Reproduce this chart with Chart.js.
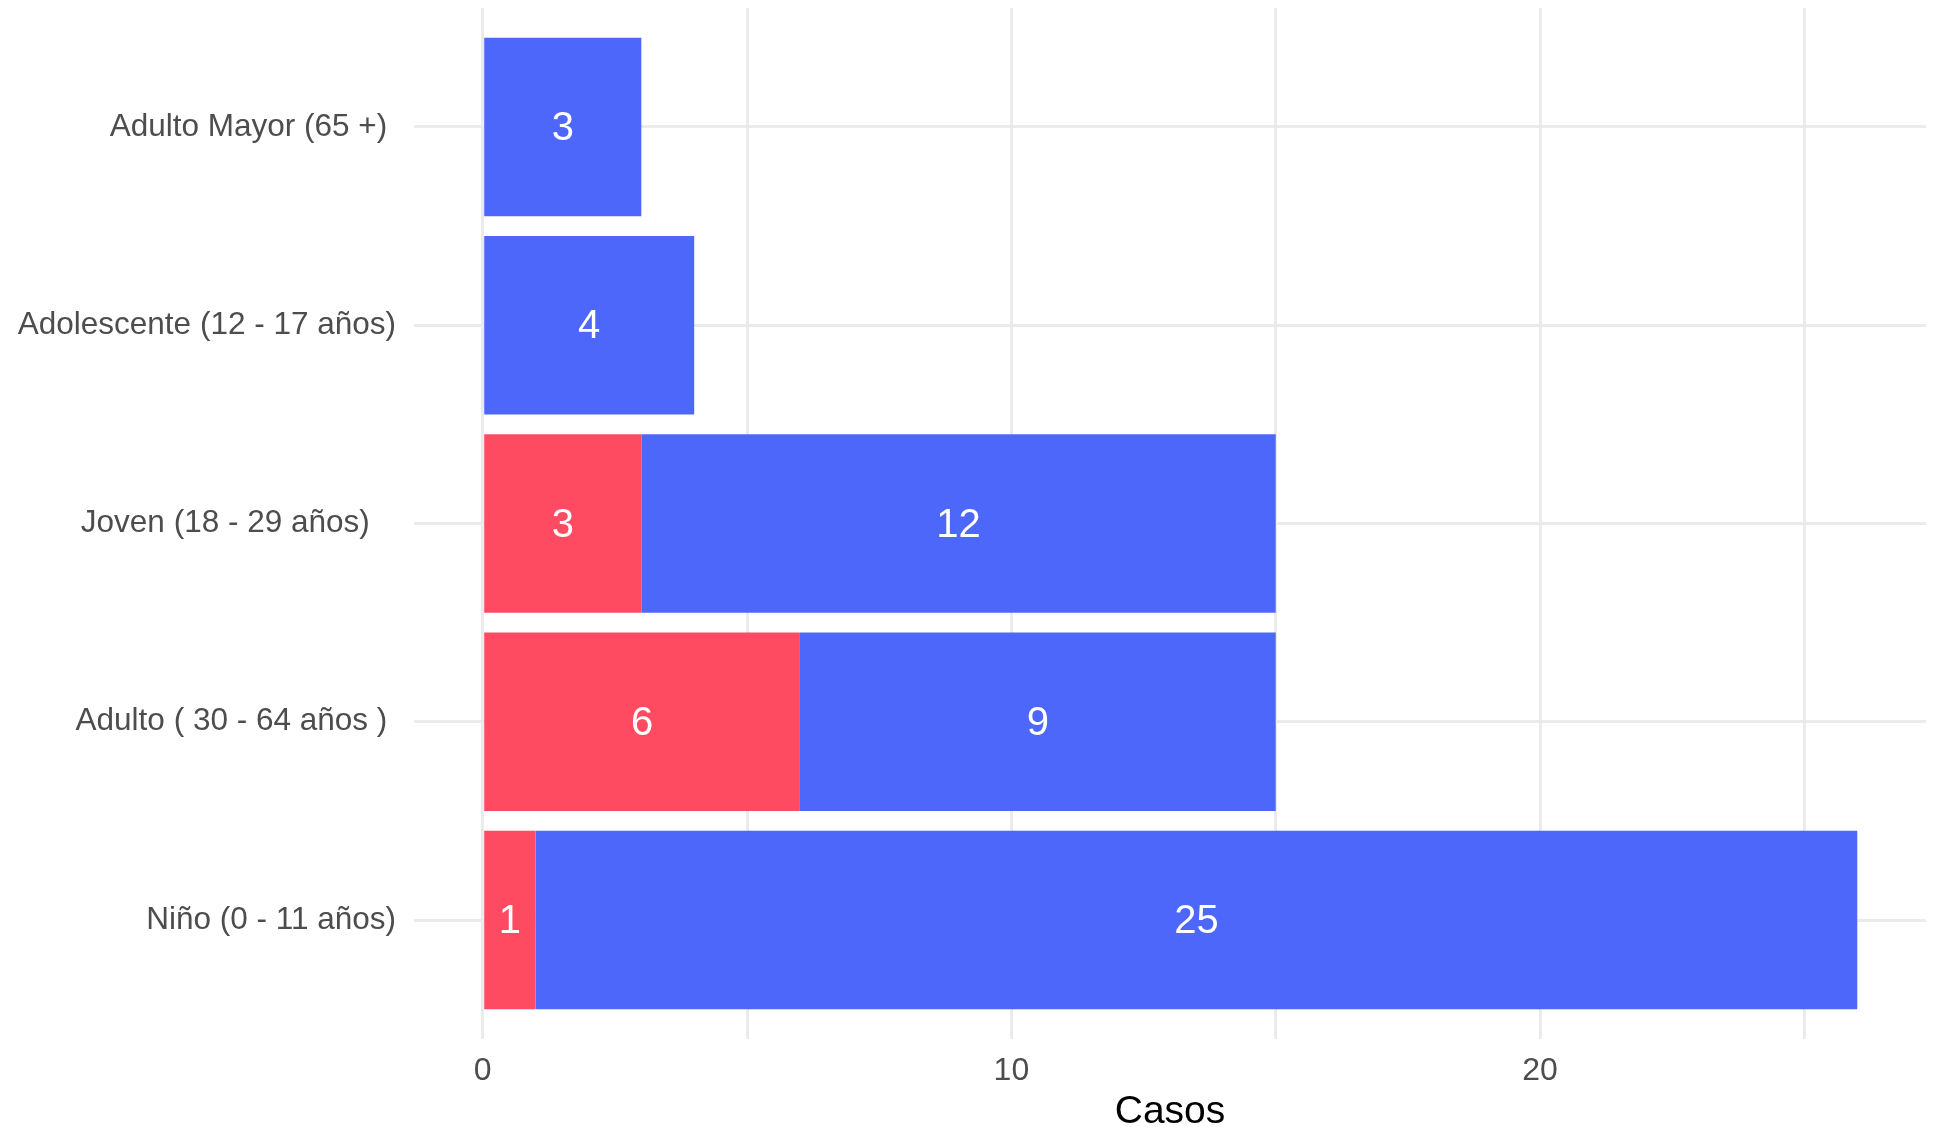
<!DOCTYPE html>
<html>
<head>
<meta charset="utf-8">
<script src="https://cdn.jsdelivr.net/npm/chart.js"></script>
<style>
  html, body { margin: 0; padding: 0; background: #fff; }
  canvas { display: block; }
</style>
</head>
<body>
<canvas id="casosChart" width="1937" height="1127"></canvas>
<script>
// grupos de edad, de arriba hacia abajo
let grupos = ['Adulto Mayor (65 +) ', 'Adolescente (12 - 17 años)', 'Joven (18 - 29 años)   ', 'Adulto ( 30 - 64 años ) ', 'Niño (0 - 11 años)'];
let casosRojo = [0, 0, 3, 6, 1];
let casosAzul = [3, 4, 12, 9, 25];
let ticksX = [0, 10, 20];

const FONT = "'Liberation Sans', Arial, Helvetica, sans-serif";

function toPoints(values) {
    return values.map(function(v, i) { return {x: v, y: i}; });
}

// etiquetas blancas dentro de cada barra
const etiquetas = {
    id: 'etiquetas',
    afterDatasetsDraw(chart) {
        let ctx = chart.ctx;
        ctx.save();
        ctx.fillStyle = '#ffffff';
        ctx.font = '40px ' + FONT;
        ctx.textAlign = 'center';
        ctx.textBaseline = 'middle';
        chart.data.datasets.forEach(function(ds, di) {
            let meta = chart.getDatasetMeta(di);
            meta.data.forEach(function(bar, i) {
                let v = ds.data[i].x;
                if (!v) return;
                let p = bar.getCenterPoint();
                ctx.fillText(String(v), p.x, p.y + 2);
            });
        });
        ctx.restore();
    }
};

let ctx = document.getElementById('casosChart').getContext('2d');
let chart = new Chart(ctx, {
    type: 'bar',
    data: {
        datasets: [{
            label: 'rojo',
            data: toPoints(casosRojo),
            backgroundColor: '#FF4B61',
            borderWidth: 0
        }, {
            label: 'azul',
            data: toPoints(casosAzul),
            backgroundColor: '#4C67FA',
            borderWidth: 0
        }]
    },
    plugins: [etiquetas],
    options: {
        indexAxis: 'y',
        responsive: false,
        animation: false,
        devicePixelRatio: 1,
        barPercentage: 0.9,
        categoryPercentage: 1,
        layout: {
            padding: {top: 8, right: 11, bottom: 0, left: 0}
        },
        plugins: {
            legend: {display: false},
            tooltip: {enabled: false}
        },
        scales: {
            x: {
                type: 'linear',
                stacked: true,
                min: -1.3,
                max: 27.3,
                offset: false,
                border: {display: false},
                grid: {color: '#EBEBEB', lineWidth: 3, drawTicks: false, offset: false},
                ticks: {
                    stepSize: 5,
                    includeBounds: false,
                    autoSkip: false,
                    maxRotation: 0,
                    padding: 13,
                    color: '#4D4D4D',
                    font: {family: FONT, size: 32},
                    callback: function(value) {
                        return ticksX.indexOf(value) >= 0 ? String(value) : '';
                    }
                },
                title: {
                    display: true,
                    text: 'Casos',
                    color: '#000000',
                    font: {family: FONT, size: 39, lineHeight: 1},
                    padding: {top: 0, bottom: -5}
                },
                afterFit: function(scale) {
                    scale.height = 88;
                    scale.paddingLeft = 0;
                    scale.paddingRight = 0;
                }
            },
            y: {
                type: 'linear',
                stacked: true,
                reverse: true,
                min: -0.6,
                max: 4.6,
                offset: false,
                border: {display: false},
                grid: {color: '#EBEBEB', lineWidth: 3, drawTicks: false, offset: false},
                ticks: {
                    stepSize: 1,
                    includeBounds: false,
                    autoSkip: false,
                    padding: 18,
                    color: '#4D4D4D',
                    font: {family: FONT, size: 31.5},
                    callback: function(value) {
                        return grupos[value] !== undefined ? grupos[value] : '';
                    }
                },
                afterFit: function(scale) {
                    scale.width = 414;
                    scale.paddingTop = 0;
                    scale.paddingBottom = 0;
                }
            }
        }
    }
});
</script>
</body>
</html>
